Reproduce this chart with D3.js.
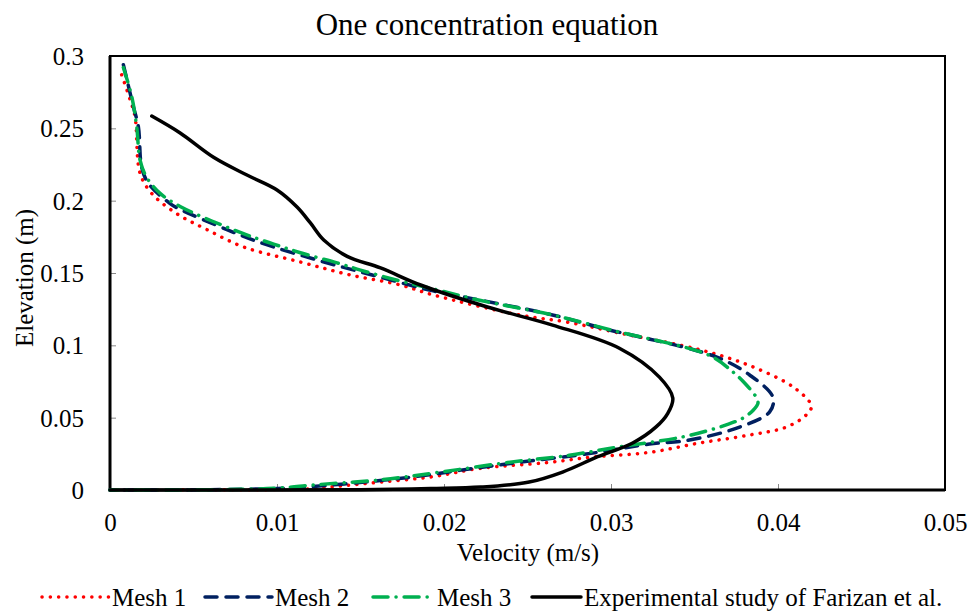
<!DOCTYPE html>
<html>
<head>
  <meta charset="utf-8">
  <title>One concentration equation</title>
  <script src="https://d3js.org/d3.v7.min.js"></script>
  <style>
    body { margin: 0; background: #fff; }
    text { font-family: "Liberation Serif", "Times New Roman", serif; fill: #000; }
  </style>
</head>
<body>
  <svg id="chart" width="975" height="612"></svg>
  <script>
    // 各系列数据
    const mesh1Vel = [0.0007, 0.0012, 0.0015, 0.0018, 0.0025, 0.004, 0.0058, 0.008, 0.0114, 0.0144, 0.0174, 0.0193, 0.0245, 0.0274, 0.0305, 0.0353, 0.0383, 0.041, 0.042, 0.0417, 0.0405, 0.0383, 0.0353, 0.0323, 0.0289, 0.0262, 0.0222, 0.0192, 0.0162, 0.0138, 0.012, 0.008, 0.004, 0];
    const mesh1Elev = [0.287, 0.270, 0.258, 0.219, 0.205, 0.191, 0.180, 0.168, 0.1576, 0.1486, 0.1417, 0.135, 0.121, 0.116, 0.1085, 0.097, 0.086, 0.0705, 0.058, 0.052, 0.0435, 0.038, 0.0325, 0.026, 0.0228, 0.019, 0.015, 0.009, 0.0055, 0.0028, 0.0008, 0.0002, 0.0001, 0];

    const mesh2Vel = [0.0008, 0.0014, 0.0017, 0.0019, 0.0023, 0.0036, 0.0042, 0.007, 0.009, 0.0124, 0.0157, 0.0192, 0.0205, 0.0265, 0.0299, 0.0313, 0.0363, 0.0383, 0.0397, 0.0395, 0.0377, 0.0347, 0.0323, 0.0289, 0.0251, 0.0218, 0.0181, 0.0146, 0.0108, 0.006, 0];
    const mesh2Elev = [0.294, 0.265, 0.251, 0.223, 0.212, 0.198, 0.194, 0.18, 0.171, 0.159, 0.1486, 0.138, 0.135, 0.121, 0.1106, 0.107, 0.092, 0.0795, 0.064, 0.054, 0.0435, 0.0345, 0.0318, 0.0255, 0.02, 0.015, 0.009, 0.0048, 0.0014, 0.0002, 0];

    const mesh3Vel = [0.0008, 0.0013, 0.0016, 0.0018, 0.0022, 0.003, 0.0042, 0.0078, 0.0098, 0.0114, 0.0136, 0.015, 0.0172, 0.019, 0.0222, 0.0265, 0.03, 0.0359, 0.0373, 0.038, 0.0387, 0.0388, 0.0385, 0.0379, 0.0369, 0.0343, 0.0304, 0.0275, 0.0238, 0.0198, 0.0162, 0.0122, 0.0102, 0.007, 0];
    const mesh3Elev = [0.292, 0.272, 0.251, 0.228, 0.216, 0.205, 0.196, 0.178, 0.17, 0.164, 0.157, 0.152, 0.145, 0.14, 0.131, 0.121, 0.1106, 0.093, 0.0816, 0.074, 0.064, 0.06, 0.055, 0.0497, 0.045, 0.0367, 0.0297, 0.024, 0.019, 0.0124, 0.007, 0.0035, 0.0014, 0.0003, 0];

    const expVel = [0.0025, 0.0042, 0.0062, 0.0082, 0.01, 0.0112, 0.012, 0.0128, 0.0142, 0.0162, 0.0186, 0.0226, 0.0265, 0.0305, 0.0329, 0.0337, 0.0334, 0.0327, 0.0313, 0.0292, 0.0271, 0.0251, 0.0222, 0.0192, 0.015, 0];
    const expElev = [0.2585, 0.2468, 0.23, 0.2177, 0.2074, 0.1956, 0.1846, 0.1728, 0.1615, 0.1535, 0.1417, 0.1265, 0.114, 0.098, 0.078, 0.0636, 0.053, 0.0436, 0.0325, 0.023, 0.0124, 0.0055, 0.002, 0.001, 0.0002, 0];

    const seriesNames = ["Mesh 1", "Mesh 2", "Mesh 3", "Experimental study of Farizan et al."];
    const xTicks = [0, 0.01, 0.02, 0.03, 0.04, 0.05];
    const yTicks = [0, 0.05, 0.1, 0.15, 0.2, 0.25, 0.3];

    const svg = d3.select("#chart");
    const plotLeft = 110, plotRight = 945, plotTop = 56, plotBottom = 490;

    const x = d3.scaleLinear().domain([0, 0.05]).range([plotLeft, plotRight]);
    const y = d3.scaleLinear().domain([0, 0.3]).range([plotBottom, plotTop]);

    // 线型
    const styles = [
      { color: "#FF0000", dash: "0.1 8.2" },
      { color: "#002060", dash: "12 9" },
      { color: "#00B050", dash: "15 8 0.1 8" },
      { color: "#000000", dash: null }
    ];
    const series = [
      d3.zip(mesh1Vel, mesh1Elev),
      d3.zip(mesh2Vel, mesh2Elev),
      d3.zip(mesh3Vel, mesh3Elev),
      d3.zip(expVel, expElev)
    ];

    // 标题
    svg.append("text")
      .attr("x", 487).attr("y", 35)
      .attr("text-anchor", "middle")
      .style("font-size", "31px")
      .text("One concentration equation");

    // 坐标刻度（内向灰色短线）
    svg.append("g")
      .attr("transform", `translate(0,${plotBottom})`)
      .call(d3.axisBottom(x).tickValues(xTicks).tickSize(-6).tickFormat(d => d3.format("~g")(d)))
      .call(g => g.select(".domain").remove())
      .call(g => g.selectAll(".tick line").attr("stroke", "#888").attr("stroke-width", 1))
      .call(g => g.selectAll(".tick text").attr("dy", 0).attr("y", 41)
        .style("font-size", "25px").attr("fill", "#000"));

    svg.append("g")
      .attr("transform", `translate(${plotLeft},0)`)
      .call(d3.axisLeft(y).tickValues(yTicks).tickSize(-6).tickFormat(d => d3.format("~g")(d)))
      .call(g => g.select(".domain").remove())
      .call(g => g.selectAll(".tick line").attr("stroke", "#888").attr("stroke-width", 1))
      .call(g => g.selectAll(".tick text").attr("x", -26).attr("dy", "0.34em")
        .style("font-size", "25px").attr("fill", "#000"));

    // 绘图区边框
    svg.append("rect")
      .attr("x", plotLeft).attr("y", plotTop)
      .attr("width", plotRight - plotLeft).attr("height", plotBottom - plotTop)
      .attr("fill", "none").attr("stroke", "#000").attr("stroke-width", 2);
    svg.append("path")
      .attr("d", `M${plotLeft},${plotTop} V${plotBottom} H${plotRight}`)
      .attr("fill", "none").attr("stroke", "#000").attr("stroke-width", 3);

    // 曲线
    const line = d3.line()
      .x(d => x(d[0]))
      .y(d => y(d[1]))
      .curve(d3.curveCatmullRom.alpha(0.5));

    series.forEach((s, i) => {
      svg.append("path")
        .datum(s)
        .attr("d", line)
        .attr("fill", "none")
        .attr("stroke", styles[i].color)
        .attr("stroke-width", 3.5)
        .attr("stroke-linecap", "round")
        .attr("stroke-linejoin", "round")
        .attr("stroke-dasharray", styles[i].dash);
    });

    // 坐标轴标题
    svg.append("text")
      .attr("x", 528).attr("y", 561)
      .attr("text-anchor", "middle")
      .style("font-size", "25px")
      .text("Velocity (m/s)");

    svg.append("text")
      .attr("transform", "translate(33,278) rotate(-90)")
      .attr("text-anchor", "middle")
      .style("font-size", "25px")
      .text("Elevation (m)");

    // 图例
    const legendPos = [
      { x1: 42, x2: 110, tx: 112 },
      { x1: 205, x2: 272, tx: 275 },
      { x1: 373, x2: 434, tx: 437 },
      { x1: 532, x2: 581, tx: 584 }
    ];
    const legendY = 597;
    legendPos.forEach((p, i) => {
      svg.append("line")
        .attr("x1", p.x1).attr("x2", p.x2)
        .attr("y1", legendY).attr("y2", legendY)
        .attr("stroke", styles[i].color)
        .attr("stroke-width", 3.5)
        .attr("stroke-linecap", "round")
        .attr("stroke-dasharray", styles[i].dash);
      svg.append("text")
        .attr("x", p.tx).attr("y", legendY + 9)
        .style("font-size", "25px")
        .text(seriesNames[i]);
    });
  </script>
</body>
</html>
